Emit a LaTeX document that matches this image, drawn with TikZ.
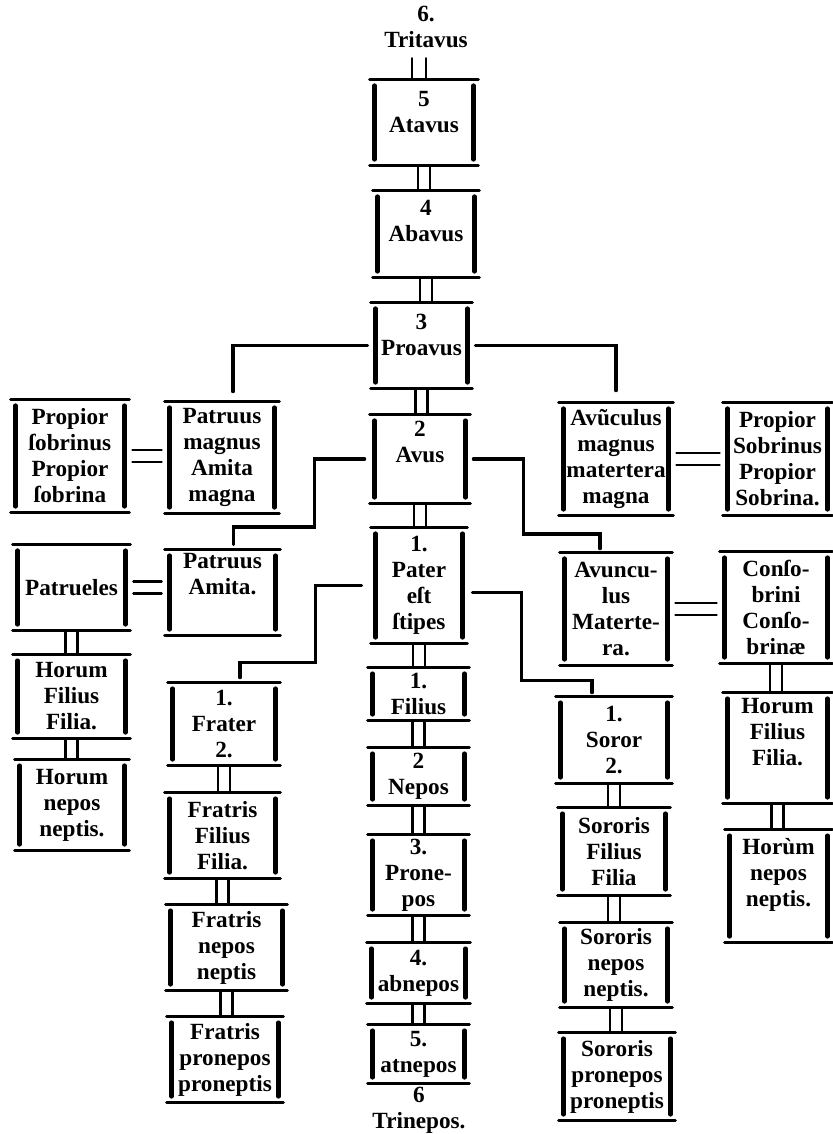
\documentclass[tikz,border=0pt]{standalone}
\usepackage{fontspec}
\setmainfont{Liberation Serif}
\begin{document}
\begin{tikzpicture}[x=0.5pt,y=-0.5pt,line cap=round,
    every node/.style={font=\bfseries\fontsize{11.6}{13}\selectfont,align=center,inner sep=0pt},
    cell/.style 2 args={minimum width=#1*0.5pt,minimum height=#2*0.5pt},
    lift/.style={text depth=#1},
    top rule/.style={line width=1.4pt},
    side rule/.style={line width=2.2pt},
    pair/.style={line width=1.2pt},
    link/.style={line width=1.6pt}]
  \useasboundingbox (0,0) rectangle (833,1134);
  % stem: ascending line
  \node (tri) at (426,27) {6.\\Tritavus};
  \node[cell={104}{85},lift=11pt] (ata) at (424,122.5) {5\\Atavus};
  \node[cell={102}{86},lift=13pt] (aba) at (426,234) {4\\Abavus};
  \node[cell={97}{85},lift=11pt] (pro) at (421.5,345.5) {3\\Proavus};
  \node[cell={96}{88},lift=17pt] (avu) at (420,459) {2\\Avus};
  \node[cell={92}{115}] (pat) at (419,585.5) {1.\\Pater\\eſt\\ſtipes};
  % stem: descending line
  \node[cell={97}{52}] (fil) at (418.5,694) {1.\\Filius};
  \node[cell={97}{57}] (nep) at (418.5,776.5) {2\\Nepos};
  \node[cell={97}{80}] (prn) at (418.5,875) {3.\\Prone-\\pos};
  \node[cell={99}{60}] (abn) at (418.5,973) {4.\\abnepos};
  \node[cell={97}{58}] (atn) at (418.5,1054) {5.\\atnepos};
  \node (trn) at (419,1110) {6\\Trinepos.};
  % father's side
  \node[cell={114}{112}] (pso) at (70,456) {Propior\\ſobrinus\\Propior\\ſobrina};
  \node[cell={110}{111}] (pma) at (222,457.5) {Patruus\\magnus\\Amita\\magna};
  \node[cell={113}{85}] (ptr) at (71.5,587.5) {Patrueles};
  \node[cell={111}{85},lift=19pt] (pam) at (222.5,592.5) {Patruus\\Amita.};
  \node[cell={113}{83}] (hff) at (71.5,696.5) {Horum\\Filius\\Filia.};
  \node[cell={110}{90}] (hnn) at (72,805) {Horum\\nepos\\neptis.};
  \node[cell={108}{82}] (fra) at (224,724) {1.\\Frater\\2.};
  \node[cell={111}{85}] (ffi) at (222.5,835.5) {Fratris\\Filius\\Filia.};
  \node[cell={117}{85}] (fne) at (226.5,947.5) {Fratris\\nepos\\neptis};
  \node[cell={112}{85}] (fpr) at (225,1059.5) {Fratris\\pronepos\\proneptis};
  % mother's side
  \node[cell={110}{112}] (avm) at (616,459) {Avũculus\\magnus\\matertera\\magna};
  \node[cell={105}{112}] (psr) at (777.5,459) {Propior\\Sobrinus\\Propior\\Sobrina.};
  \node[cell={108}{112}] (avn) at (616,609) {Avuncu-\\lus\\Materte-\\ra.};
  \node[cell={108}{111}] (con) at (776,607.5) {Conſo-\\brini\\Conſo-\\brinæ};
  \node[cell={105}{110},lift=16pt] (hfr) at (777.5,748) {Horum\\Filius\\Filia.};
  \node[cell={103}{112},lift=14pt] (hnr) at (778.5,886) {Horùm\\nepos\\neptis.};
  \node[cell={112}{86}] (sor) at (614,740) {1.\\Soror\\2.};
  \node[cell={108}{87}] (sfi) at (614,851.5) {Sororis\\Filius\\Filia};
  \node[cell={108}{84}] (sne) at (616,965) {Sororis\\nepos\\neptis.};
  \node[cell={112}{87}] (spr) at (617,1076.5) {Sororis\\pronepos\\proneptis};

  % frames
  \foreach \n in {ata,aba,pro,avu,pat,fil,nep,prn,abn,atn,pso,pma,ptr,pam,hff,hnn,
                  fra,ffi,fne,fpr,avm,psr,avn,con,hfr,hnr,sor,sfi,sne,spr}{
    \draw[top rule] ([xshift=-1pt]\n.north west) -- ([xshift=1pt]\n.north east);
    \draw[top rule] ([xshift=-1pt]\n.south west) -- ([xshift=1pt]\n.south east);
    \draw[side rule] ([shift={(1.5pt,-3pt)}]\n.north west) -- ([shift={(1.5pt,3pt)}]\n.south west);
    \draw[side rule] ([shift={(-1.5pt,-3pt)}]\n.north east) -- ([shift={(-1.5pt,3pt)}]\n.south east);
  }

  % double lines down each line
  \foreach \a/\b in {ata/aba,aba/pro,pro/avu,avu/pat,pat/fil,fil/nep,nep/prn,prn/abn,abn/atn,
                     ptr/hff,hff/hnn,fra/ffi,ffi/fne,fne/fpr,con/hfr,hfr/hnr,sor/sfi,sfi/sne,sne/spr}{
    \draw[pair] ([xshift=-3pt]\a.south) -- ([xshift=-3pt]\a.south |- \b.north);
    \draw[pair] ([xshift=3pt]\a.south) -- ([xshift=3pt]\a.south |- \b.north);
  }
  \draw[pair] ([xshift=-7pt,yshift=-5pt]tri.south) -- ([xshift=-7pt]tri.south |- ata.north);
  \draw[pair] ([xshift=0pt,yshift=-5pt]tri.south) -- ([xshift=0pt]tri.south |- ata.north);

  % equal signs
  \foreach \a/\b in {pso/pma,ptr/pam,avm/psr,avn/con}{
    \draw[pair,shorten <=2.5pt,shorten >=2.5pt] ([yshift=3pt]\a.east) -- ([yshift=3pt]\a.east -| \b.west);
    \draw[pair,shorten <=2.5pt,shorten >=2.5pt] ([yshift=-3pt]\a.east) -- ([yshift=-3pt]\a.east -| \b.west);
  }

  % side branches
  \draw[link] ([xshift=-2.5pt]pro.west) -| ([xshift=5.5pt,yshift=5pt]pma.north);
  \draw[link] ([xshift=2.5pt]pro.east) -| ([yshift=6pt]avm.north);
  \draw[link] ([xshift=-3.5pt]avu.west) -- ++(-50,0) -- ++(0,68) -| ([xshift=5.5pt,yshift=2.5pt]pam.north);
  \draw[link] ([xshift=2.5pt]avu.east) -- ++(50,0) -- ++(0,75) -| ([xshift=-8pt,yshift=2pt]avn.north);
  \draw[link] ([xshift=-5.5pt]pat.west) -- ++(-46,0) -- ++(0,77) -| ([xshift=8pt,yshift=2.5pt]fra.north);
  \draw[link] ([xshift=3.5pt,yshift=-3.5pt]pat.east) -- ++(49,0) -- ++(0,88) -| ([xshift=-11pt,yshift=2pt]sor.north);
\end{tikzpicture}
\end{document}
